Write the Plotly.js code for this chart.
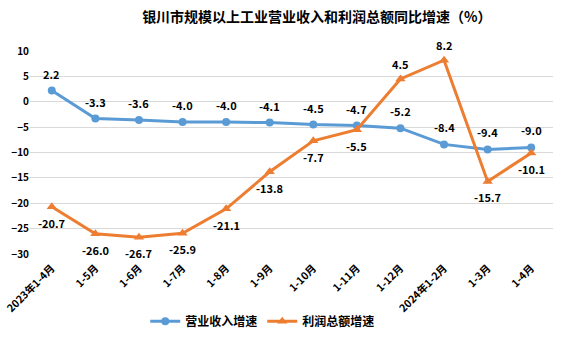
<!DOCTYPE html>
<html><head><meta charset="utf-8">
<script src="https://cdn.plot.ly/plotly-3.0.1.min.js"></script>
<style>body{margin:0;background:#fff}#c{width:573px;height:351px}</style>
</head><body><div id="c"></div>
<script>
const categories = ["2023年1-4月","1-5月","1-6月","1-7月","1-8月","1-9月","1-10月","1-11月","1-12月","2024年1-2月","1-3月","1-4月"];
const revenue = [2.2,-3.3,-3.6,-4.0,-4.0,-4.1,-4.5,-4.7,-5.2,-8.4,-9.4,-9.0];
const profit = [-20.7,-26.0,-26.7,-25.9,-21.1,-13.8,-7.7,-5.5,4.5,8.2,-15.7,-10.1];
const revenueName = "营业收入增速";
const profitName = "利润总额增速";
const titleText = "银川市规模以上工业营业收入和利润总额同比增速（%）";

const F = '"Noto Sans CJK SC", "Microsoft YaHei", sans-serif';
const labelFont = {family:F, size:11, color:'#000', weight:'bold'};

const traces = [
 {x: categories, y: revenue, name: revenueName, type:'scatter', mode:'lines+markers',
  line:{color:'#5B9BD5', width:3}, marker:{symbol:'circle', size:8, color:'#5B9BD5'}, cliponaxis:false},
 {x: categories, y: profit, name: profitName, type:'scatter', mode:'lines+markers',
  line:{color:'#ED7D31', width:3}, marker:{symbol:'triangle-up', size:9, color:'#ED7D31'}, cliponaxis:false}
];

const annotations = [];
revenue.forEach((v,i)=>annotations.push({x:categories[i], y:v, xref:'x', yref:'y', text:v.toFixed(1),
  showarrow:false, yshift:17, font:labelFont}));
profit.forEach((v,i)=>{
  const up = (i===8||i===9);
  annotations.push({x:categories[i], y:v, xref:'x', yref:'y', text:v.toFixed(1),
    showarrow:false, yshift: up ? 15 : -16, font:labelFont});
});

const layout = {
 width:573, height:351,
 margin:{l:30, r:20, t:51, b:97},
 paper_bgcolor:'#fff', plot_bgcolor:'#fff',
 font:{family:F, size:10, color:'#000'},
 title:{text: titleText, font:{family:F, size:14, color:'#000', weight:'bold'}, x:0.553, xanchor:'center', y:0.952, yanchor:'middle'},
 xaxis:{type:'category', range:[-0.5,11.5], tickangle:-45, showgrid:false, zeroline:false, showline:false, ticks:'',
   ticklabelstandoff:5,
   tickfont:{family:F, size:10.5, color:'#000', weight:'bold'}, fixedrange:true},
 yaxis:{range:[-30,10], dtick:5, tick0:0, showgrid:true, gridcolor:'#D9D9D9', gridwidth:1, zeroline:false,
   showline:false, ticks:'', tickfont:{family:F, size:10, color:'#000', weight:'bold'}, fixedrange:true},
 legend:{orientation:'h', x:0.445, xanchor:'center', y:-0.26, yanchor:'top',
   font:{family:F, size:12, color:'#000', weight:'bold'}},
 annotations: annotations,
 showlegend:true
};
Plotly.newPlot('c', traces, layout, {displayModeBar:false, staticPlot:true});
</script></body></html>
